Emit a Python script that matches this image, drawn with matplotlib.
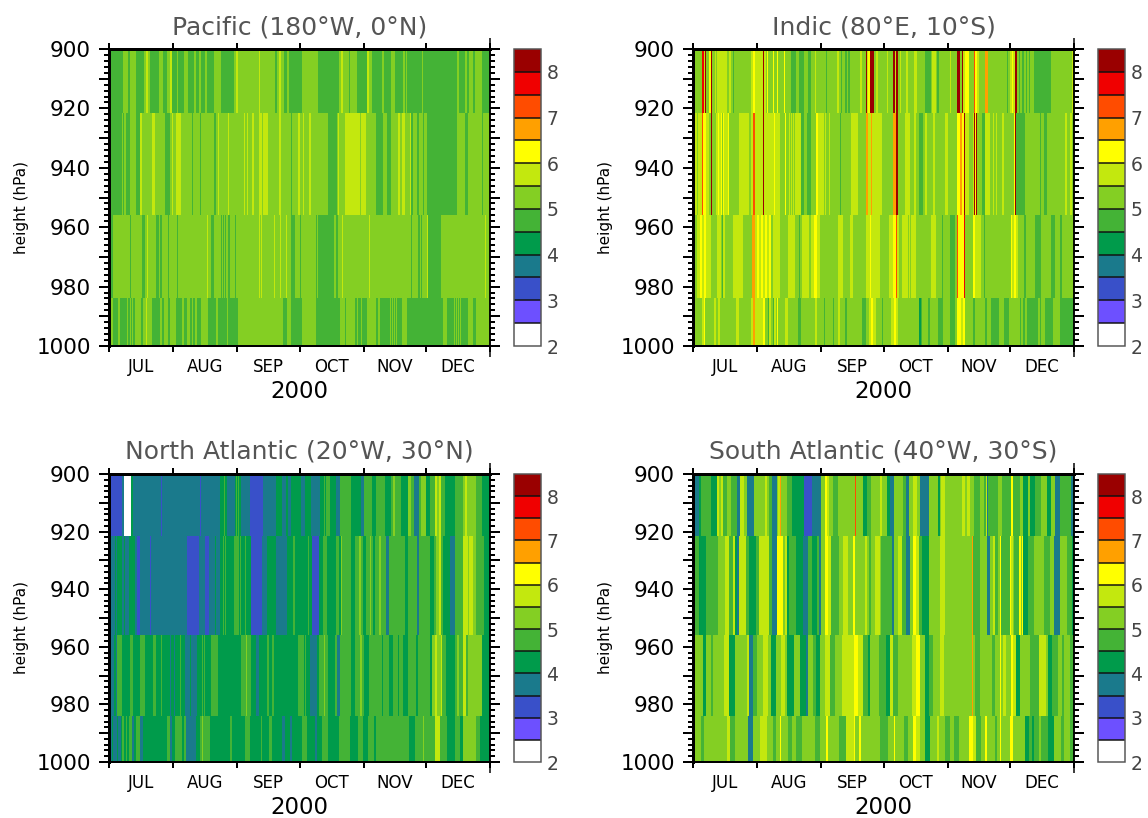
import numpy as np
import matplotlib
matplotlib.use("Agg")
import matplotlib.pyplot as plt
from matplotlib.colors import ListedColormap, BoundaryNorm
from matplotlib.ticker import MultipleLocator, FuncFormatter

# class mid-values of the shaded contour intervals
W, B, T, G, M, L, Y, S, O, N, R, D = 2.25, 3.25, 3.75, 4.25, 4.75, 5.25, 5.75, 6.25, 6.75, 7.25, 7.75, 8.25

levels = [2, 2.5, 3, 3.5, 4, 4.5, 5, 5.5, 6, 6.5, 7, 7.5, 8, 8.5]
colors = ['#ffffff', '#6d50ff', '#3950c9', '#1a7a8c', '#009b4b', '#44b336', '#84cf23',
          '#c3e80e', '#ffff00', '#ffa000', '#ff4c00', '#f00000', '#9a0000']
pressure_edges = [900, 921.5, 956, 984, 1000]
months = ['JUL', 'AUG', 'SEP', 'OCT', 'NOV', 'DEC']
month_days = [31, 31, 30, 31, 30, 31]
year_label = '2000'

# value, day on which that value ends, value, day ...
pac1 = [Y,.5,M,7,L,9,M,10,L,13,M,17,L,18,Y,18.8,L,20,M,24,L,26,M,28,L,29.5,Y,30.5,M,32.8,L,33.5,M,36,L,38,M,41,L,42,M,43.5,L,44.5,M,46.5,L,47.5,M,50.5,L,54,M,60.4,L,61.4,Y,62.3,L,72.3,Y,72.8,L,80,M,81,L,82,Y,83.2,L,84.7,M,85.8,L,87,M,93,L,101,M,111,L,112,Y,113,L,116,M,116.5,L,120,M,124.7,Y,125.6,L,127,M,132,L,133,M,136,L,138,M,142,L,143,M,143.6,L,144,M,151,L,151.5,M,168,L,169,M,172,L,173,M,174,L,176,M,176.8,L,180,M,184]
pac2 = [M,6.3,L,6.8,M,7.3,L,8.2,M,10.2,L,13,M,15,Y,16,L,21,Y,22,L,27,M,29.5,L,30.5,Y,31,L,32.4,Y,35,L,40,M,40.6,L,44,M,44.5,L,50.8,M,51.7,L,52.7,Y,53.2,L,57.5,Y,58,L,65.2,Y,65.7,L,66.6,Y,67,L,69,Y,70,L,72.5,Y,74,L,74.5,Y,77,L,82,Y,83.3,L,88,M,88.5,L,91.2,Y,92,L,93.8,Y,94.3,L,96.7,Y,97.7,L,106,M,110,L,110.5,Y,111,L,114,Y,121,L,121.8,Y,124,L,129,M,132.4,L,134.4,M,136.4,L,139.6,Y,140.6,L,141.6,Y,143,L,145.4,Y,145.9,M,146.9,L,148.8,M,149.8,L,151.7,M,152.2,L,153.7,M,168,L,172,M,173.5,L,180.3,M,180.8,L,184]
pac3 = [M,2,L,10,M,10.6,L,16,M,17.4,L,18.4,Y,18.9,L,22.5,M,24,L,24.5,M,25.6,L,28.5,M,29,L,33,M,33.5,L,47.3,Y,47.8,L,49.3,M,50.7,L,54.2,M,54.7,L,55.2,M,55.7,L,56.2,M,56.7,L,57.5,M,58.5,L,60.9,M,61.4,L,72.5,Y,73,L,73.4,Y,74,L,79.7,Y,80.2,L,82.6,Y,83.1,L,85.5,Y,86,L,88,M,90,L,92.3,M,92.8,L,100,M,100.5,L,101,M,108.8,L,109.7,M,110.7,L,112.6,Y,113.1,L,125.6,Y,126.1,L,146,M,146.5,L,149.4,M,150.3,L,150.8,M,151.3,L,153.7,Y,154.2,M,160.4,L,181.7,Y,182.2,L,184]
pac4 = [L,2,M,4.2,L,5.3,M,8.7,L,9.2,M,10.2,L,10.6,M,11.1,L,11.6,M,12.6,L,15.5,M,16.4,L,17.9,Y,18.4,L,20.8,M,24.6,L,25.6,M,26.6,L,28.5,M,29.4,L,32.4,M,35.3,L,36.3,M,37.7,L,39.1,M,40.1,L,40.6,M,41.5,L,42.5,M,44.4,L,47.8,M,51.7,L,52.7,M,57,L,57.5,M,62.3,L,84,M,86,L,88,M,93,L,100,M,111.6,L,114,M,114.5,L,118.8,M,119.8,L,120.3,M,121.7,L,122.2,M,124.7,L,129,M,130,L,131,M,135.8,L,136.3,M,136.8,L,137.3,M,137.8,L,138.2,M,138.7,L,139.2,M,141.5,L,144,M,161.4,L,163.3,M,166.7,L,167.2,M,167.7,L,168.2,M,168.7,L,169.1,M,169.6,L,170,M,173.5,L,176,M,177,L,184]

ind1 = [L,4.3,R,5.3,Y,5.8,D,6.3,L,7.5,S,8.7,D,9.2,L,10.5,Y,11,L,11.6,Y,16.4,L,17.4,Y,18.4,L,19.3,M,19.8,L,28,Y,28.9,S,29.8,Y,33.8,D,34.3,Y,35.3,L,35.8,S,36.4,L,38.6,S,39.1,L,40.6,S,41.1,L,44,S,44.5,L,47.3,M,49.8,L,51.2,M,53.6,L,55.6,M,57,L,59,Y,59.5,L,64.2,M,64.7,L,69.6,Y,70.5,L,71.5,M,72,L,73.4,M,74.4,L,74.9,M,75.8,L,80.7,Y,81.6,L,83.6,D,84.1,Y,84.5,S,85.5,D,87.4,L,88.4,Y,89.4,L,93.7,Y,94.2,L,96.6,D,97.5,Y,98,D,99,L,100,Y,100.5,L,102.9,Y,103.8,L,106.7,Y,108.2,L,112,M,115,L,115.4,Y,117.4,L,117.7,M,118.8,L,124,Y,124.5,L,127.5,D,129,L,130,D,130.4,Y,131.4,S,133.3,L,135.5,N,136.2,S,137.2,Y,138.1,L,141,O,142.5,L,151.5,M,152.1,L,153,Y,153.9,S,154.5,Y,155.5,D,156.5,L,157.4,M,157.9,L,158.9,M,159.9,L,160.8,M,161.3,L,162.3,M,162.8,L,164.7,M,172.9,L,183,Y,184]
ind2 = [Y,2,L,2.5,Y,4.3,N,4.8,S,6.3,Y,7.7,L,8.7,D,9.2,L,11,Y,12,S,12.5,Y,13.5,S,14,L,14.5,S,15,Y,17,S,17.5,L,22,Y,27,L,28,Y,29,N,30,Y,33.8,D,34.3,Y,39,S,39.5,Y,42,L,44.4,S,44.9,L,46.4,Y,46.9,L,47.3,Y,47.8,L,48.3,Y,48.8,L,49.3,Y,52.2,M,53.6,L,55,M,57,L,59.4,S,60.4,Y,63.3,L,63.8,Y,64.3,L,65.7,Y,66.2,L,71.2,M,71.6,L,76.3,Y,79.7,L,83.6,O,84.5,Y,86,O,86.5,Y,91.3,L,96.6,O,98,D,99,L,102.4,Y,104.8,L,106.7,Y,107.7,L,109.1,M,111,L,112,Y,113,L,115.9,Y,116.9,L,121.7,Y,123.1,L,127.5,S,128.9,O,130,S,130.9,D,131.4,Y,133.3,L,135.2,Y,135.7,D,136.2,S,136.7,D,137.2,L,139.4,M,141,Y,143.4,L,144.9,Y,145.4,L,146.3,Y,146.8,L,149.2,Y,150.2,L,155,S,155.5,D,156,M,160.3,L,167.6,M,168.1,L,169.5,M,171,L,179.7,Y,180.6,L,182,Y,183,L,184]
ind3 = [L,2,Y,3.4,S,4.3,Y,5.3,S,6.3,Y,8.7,L,11.6,Y,13.5,L,14,M,14.5,Y,15.5,L,19.3,Y,24.2,L,28.5,O,30,Y,31,S,32,Y,32.8,S,33.8,Y,34.8,S,35.8,Y,36.7,S,37.7,L,38.6,Y,42,L,45.9,Y,49.3,L,51.2,M,51.7,L,52.7,Y,56,L,57,Y,58.5,S,59.9,Y,61.4,L,70,Y,72.5,L,75.8,Y,77.3,L,83.6,Y,85.5,S,86,Y,90.3,L,94.6,Y,96.6,S,98,N,98.5,Y,99.5,L,101,Y,103.8,L,104.3,Y,104.8,L,105.3,Y,107.7,L,115,Y,117.4,L,120.3,M,120.7,L,124,M,126.5,L,127.5,N,128,S,130.9,R,131.4,L,135.2,S,136.2,Y,139,L,140.5,M,141,L,153.6,S,154.1,Y,155,S,156,Y,157,L,160,M,161,L,165.2,M,168.2,L,173,M,175,L,177.3,M,178.2,L,184]
ind4 = [L,4.3,Y,5.3,S,5.8,L,10,Y,11.1,L,12.2,Y,13,L,20.8,Y,22.2,L,28,Y,29,O,30,Y,33.8,S,34.8,L,36.2,M,36.7,Y,37.7,L,38.6,M,39,Y,40,L,40.5,S,41,L,44.4,Y,45.9,L,50.7,M,52.2,L,58.9,Y,59.9,L,63.3,M,63.8,L,67.6,M,68.1,L,70,Y,71,L,73.4,M,74.4,L,81.6,M,83.6,L,85,Y,86,S,87,Y,88.4,L,91.3,M,91.7,L,95.6,Y,97,S,98,Y,99,L,109.1,G,110.1,M,110.6,L,113.5,M,114.5,L,118.3,M,120.7,L,124.1,M,126.5,L,127.5,S,129.4,Y,130.4,S,131.4,L,135.2,M,136.2,L,141,M,142,L,144,M,147.8,L,150.2,M,152.6,L,158,M,158.5,L,159.4,M,160.3,L,161.3,M,166.6,L,167.6,M,168.1,L,170,M,173.9,L,177,M,184]

nat1 = [B,6.3,T,7.2,W,10.6,G,11.6,T,25.1,B,25.6,T,44,B,44.4,T,53.6,G,55.6,M,56,G,57,T,60.9,G,61.4,M,61.8,G,62.3,M,62.8,G,63.8,T,68.1,B,74.4,T,80.7,G,83.6,T,85.5,G,86.4,T,88,G,92.8,T,94.7,G,97.6,T,102,G,104,M,104.4,G,104.9,M,106.8,G,109.7,T,111.6,M,117,G,121.8,T,123.2,M,127.1,G,129,M,133.4,G,136.3,M,137.2,L,138.2,M,141.1,G,144.5,L,146,M,147.4,T,149.8,M,150.8,L,153.2,G,155.1,M,157.5,Y,158.5,L,159.5,Y,160.4,M,162.4,G,167.2,M,171,L,172,Y,173,L,177,M,180.2,G,184]
nat2 = [T,3,G,3.4,T,3.9,G,6.3,T,7.2,G,7.7,T,9.7,G,12.6,T,13.5,B,15,T,19.8,B,20.3,T,37.7,B,43.5,T,46.4,B,48.3,T,51.2,G,51.7,T,53.6,G,55,M,55.5,G,56,M,56.5,G,60.4,M,62.8,G,63.3,M,63.8,G,65.7,M,66.2,G,68.6,B,73.9,T,76.3,G,80.7,T,86,G,88.9,M,89.9,G,96.2,M,96.7,G,98,B,101.5,G,103.4,M,105.4,G,109.7,M,111.2,G,112.1,L,112.6,M,117,G,119,M,120.8,L,121.8,M,122.8,G,124.2,M,126.1,L,126.6,M,127.6,G,128.5,M,130.5,L,131.5,M,133.9,T,135.3,M,143,G,144.5,M,148.8,T,149.8,M,155.1,G,157,M,158,L,159.5,Y,160.4,M,161.4,G,164.8,T,167.2,M,171,Y,173.5,L,174,Y,176,L,177,M,181.2,G,184]
nat3 = [G,1,T,2.4,G,3.4,T,3.9,M,6.3,G,10.1,M,11.6,G,15,M,17.4,G,21.3,M,22.7,G,25.1,M,25.6,G,29.5,T,30,G,31.4,T,31.9,G,34.3,M,34.8,G,36.7,T,39,G,39.5,T,42.5,G,45,M,45.5,G,46,M,46.4,G,49.3,M,52.7,G,63.8,M,66.2,L,66.7,M,68.6,G,71,T,72.5,G,76.3,M,77.3,G,78.7,M,79.7,G,91.3,M,94.2,G,94.7,M,95.2,G,97.1,T,100.5,G,101.4,M,103.9,L,104.4,M,105.8,G,109.2,M,110.2,T,111.6,M,117,G,119,M,121.3,L,122.3,M,123.2,G,125.6,M,131.9,G,132.4,M,135.3,G,137.2,M,139.7,G,140.2,M,142,G,144.5,M,148.4,G,149.3,M,155.1,G,156,L,157.5,Y,158.5,L,160.4,Y,160.9,M,162.9,G,167.2,M,168.2,L,169.1,M,171,Y,172.5,M,173.5,L,180.2,G,184]
nat4 = [T,1.4,G,1.9,T,3.9,G,4.4,T,5.8,G,6.3,M,7.2,G,8.2,M,8.7,G,9.7,M,11.1,T,12,G,13,M,15,T,16.4,G,28,M,29.5,T,30.4,G,31.9,M,35.3,G,36.2,M,37.2,T,42,G,44,M,45,L,45.5,M,48.8,G,58.5,M,59.4,G,65.7,M,68.1,G,73.4,M,73.9,G,77.3,M,78.7,G,83.6,T,85,G,87.4,T,88.4,G,93.3,M,95.7,G,99.6,T,100.5,G,103,M,105.8,G,111.2,M,116.5,G,120.3,M,122.8,G,125.2,M,128,G,129,M,145,G,147.9,M,151.7,L,152.2,M,157.5,Y,160,M,163.3,G,167.2,M,169.6,G,171,L,177.4,M,179.3,G,184]

sat1 = [T,2.9,G,3.9,M,8.7,G,11.6,Y,12.6,L,13.5,Y,14.5,M,16.4,L,18.4,M,21.3,T,22.7,Y,24.6,L,26,T,29.5,L,35,Y,35.7,L,36.7,M,38.2,T,40.6,L,41.1,Y,42,O,42.5,L,45.4,M,47.8,G,53.6,B,57.5,T,61.8,L,63.8,S,64.7,Y,65.7,L,67.6,M,70,L,78.2,N,78.7,L,82.1,G,84,M,86,L,90.3,Y,91.3,L,93.7,G,95.1,T,97,L,101.4,M,102.9,T,104.3,L,106.2,Y,108.2,L,109.6,T,114,L,118.3,G,119.3,L,119.8,Y,121.7,L,129.9,Y,131.4,L,132.4,Y,133.8,L,135.7,M,138.6,L,140.5,M,141.5,Y,142,T,142.5,M,147.3,L,149.2,M,153.6,S,154.5,M,158,L,159.4,G,161.8,L,162.8,G,165.2,M,168,L,171,G,172.9,L,174.8,T,177.3,M,182.6,T,184]
sat2 = [G,.5,M,2.9,G,6.3,M,12,L,15.5,Y,17.4,M,19.3,Y,20.3,G,21.3,T,22.2,Y,25.6,M,27,G,30.4,M,31.9,Y,36.7,M,38.2,T,40.6,S,43.5,L,44.4,Y,45.4,G,46.4,M,49.8,G,53.1,T,55.6,M,57.5,G,59.9,M,60.9,T,61.8,L,63.8,S,65.2,Y,66.7,M,70.5,L,72.5,Y,74.9,L,77.3,S,78.3,L,83.1,Y,84,L,85,M,86,L,87.9,Y,90.3,L,91,M,96.1,T,97,L,99,Y,101,M,102.9,T,104.8,L,106.2,S,107.7,Y,109.1,M,110.6,G,114,L,119.3,Y,121.7,L,134.7,O,135.2,M,138.6,L,141.9,T,143.4,L,144.9,Y,145.9,M,147.3,L,148.3,S,148.8,M,153.1,S,153.6,Y,154.5,L,155,M,157.5,S,158.4,L,159,S,159.4,G,161.8,M,164.7,L,169.5,M,172.4,L,174.3,T,177.3,L,180.6,M,183,G,184]
sat3 = [M,1,L,4.8,G,6.3,L,8.7,M,9.7,L,15,Y,17.4,G,20.3,L,26,Y,27,T,29,M,30.9,L,33.8,Y,36.2,L,37.7,G,40,L,42.5,Y,44.4,L,45.4,G,49,L,51.7,G,54.6,T,55.6,L,58,M,59.4,G,61.4,L,63.8,Y,66.2,M,68.6,L,72,Y,77.8,S,79.7,Y,82.1,M,84.5,G,85.5,L,89.9,M,93.2,G,95.1,Y,96.6,M,99,L,105.8,Y,107.7,S,109.6,L,112,G,114,M,115.9,L,119.3,Y,121.2,L,134.7,O,135.2,L,136.2,M,138.6,L,144.4,M,145.9,L,148.3,S,148.8,L,149.7,Y,151.2,L,153.6,S,154.5,Y,156,G,158,L,162.8,M,167.1,Y,170.5,L,171.4,G,173.4,M,176.3,L,178.2,M,179.2,L,182,M,184]
sat4 = [M,1,L,4,M,5.3,L,16.4,Y,17.9,M,20.3,L,26.6,T,29,L,32.4,Y,35.7,L,38.6,M,40,L,42,S,42.5,L,45.9,M,47.8,L,49.8,M,52.7,L,58.9,M,61.4,L,64.3,S,65.2,L,70.5,M,73.9,Y,77.8,S,78.3,L,80.2,S,81.2,L,90.3,M,94.2,L,97,S,97.5,L,101.9,M,103.8,L,106.2,S,107.7,Y,109.6,L,112,G,114.5,L,117.8,Y,118.8,L,121.7,M,124.1,L,126,M,128.5,L,133.3,S,135.2,Y,136.7,M,139.1,L,141,S,142,L,145.9,M,146.9,L,148.3,S,148.8,L,153.1,S,154.5,L,160.3,G,162.3,M,163.8,G,164.7,M,167,L,168,M,171.5,G,174.4,L,177.8,M,179.2,L,182,M,184]

titles = ['Pacific (180°W, 0°N)', 'Indic (80°E, 10°S)', 'North Atlantic (20°W, 30°N)', 'South Atlantic (40°W, 30°S)']
panels = [[pac1, pac2, pac3, pac4], [ind1, ind2, ind3, ind4], [nat1, nat2, nat3, nat4], [sat1, sat2, sat3, sat4]]
boxes = [(109, 49, 346), (693, 49, 346), (109, 474, 762), (693, 474, 762)]

W_PX, H_PX = 1148, 818
PX = 0.72  # points per pixel at 100 dpi
plt.rcParams['font.family'] = ['DejaVu Sans']
fig = plt.figure(figsize=(W_PX / 100, H_PX / 100), dpi=100, facecolor='white')
cmap = ListedColormap(colors)
norm = BoundaryNorm(levels, cmap.N)
AXW = 381
month_edges = np.concatenate([[0], np.cumsum(month_days)])
month_mid = (month_edges[:-1] + month_edges[1:]) / 2

for title, runs, (x0, y0, y1) in zip(titles, panels, boxes):
    h = y1 - y0
    ax = fig.add_axes([x0 / W_PX, 1 - y1 / H_PX, AXW / W_PX, h / H_PX])
    mesh = None
    for k, run in enumerate(runs):
        vals = np.array(run[0::2])
        ends = np.array(run[1::2], dtype=float)
        edges = np.concatenate([[0], ends])
        mesh = ax.pcolormesh(edges, pressure_edges[k:k + 2], vals[np.newaxis, :], cmap=cmap, norm=norm,
                             shading='flat', antialiased=False, linewidth=0)
    ax.set_xlim(0, 184)
    ax.set_ylim(1000, 900)
    ax.text(0.5, 1 + 22 / h, title, transform=ax.transAxes, fontsize=18, color='#555555', ha='center', va='center')

    ax.yaxis.set_major_locator(MultipleLocator(10))
    ax.yaxis.set_minor_locator(MultipleLocator(2))
    ax.yaxis.set_major_formatter(FuncFormatter(lambda v, pos: f'{v:.0f}' if round(v) % 20 == 0 else ''))
    ax.tick_params(axis='y', which='major', left=True, right=True, length=10 * PX, width=2 * PX,
                   labelsize=15.5, pad=8 * PX)
    ax.tick_params(axis='y', which='minor', left=True, right=True, length=5 * PX, width=2 * PX)
    ax.set_ylabel('height (hPa)', fontsize=11)
    ax.yaxis.set_label_coords(-80 / AXW, 0.5 - 10 / h)

    ax.set_xticks(month_edges)
    ax.set_xticklabels([])
    ax.tick_params(axis='x', which='major', top=True, bottom=True, length=6 * PX, width=2 * PX, direction='out')
    for m, lab in zip(month_mid, months):
        ax.text(m, -21 / h, lab, transform=ax.get_xaxis_transform(), fontsize=12, ha='center', va='center')
    ax.text(0.5, -45 / h, year_label, transform=ax.transAxes, fontsize=16.5, ha='center', va='center')
    ax.plot([1, 1], [-11 / h, 1 + 11 / h], transform=ax.transAxes, color='black', lw=1.5 * PX,
            clip_on=False, solid_capstyle='butt')
    for side, lw in (('top', 3), ('left', 3), ('bottom', 2), ('right', 1.5)):
        ax.spines[side].set_linewidth(lw * PX)

    cax = fig.add_axes([(x0 + 405) / W_PX, 1 - y1 / H_PX, 27 / W_PX, h / H_PX])
    cb = fig.colorbar(mesh, cax=cax, ticks=[2, 3, 4, 5, 6, 7, 8], drawedges=True, spacing='proportional')
    cb.dividers.set_color('#111111')
    cb.dividers.set_linewidth(1.5 * PX)
    cb.outline.set_edgecolor('#555555')
    cb.outline.set_linewidth(1.5 * PX)
    cb.ax.minorticks_off()
    cb.ax.tick_params(length=0, labelsize=13.5, labelcolor='#444444', pad=4)
    cb.ax.set_yticklabels(['2', '3', '4', '5', '6', '7', '8'])

fig.savefig('out.png', dpi=100, facecolor='white')
